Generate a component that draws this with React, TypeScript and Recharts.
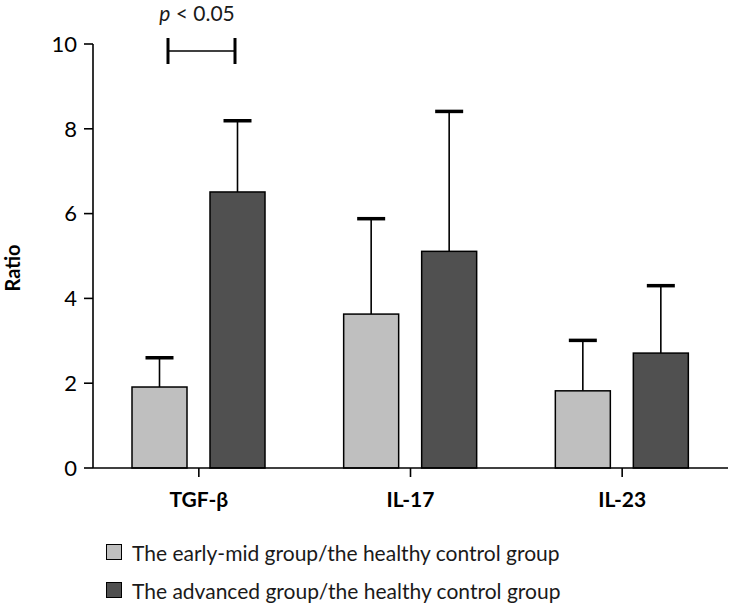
import { BarChart, Bar, XAxis, YAxis, Legend, Label } from 'recharts';

const categories = ['TGF-β', 'IL-17', 'IL-23'];
const earlyMid = [1.91, 3.63, 1.82];
const earlyMidSd = [0.69, 2.25, 1.19];
const advanced = [6.51, 5.11, 2.71];
const advancedSd = [1.68, 3.3, 1.59];
const yTicks = [0, 2, 4, 6, 8, 10];
const seriesNames = [
  'The early-mid group/the healthy control group',
  'The advanced group/the healthy control group',
];

const data = categories.map((name, i) => ({
  name,
  early: earlyMid[i],
  earlySd: earlyMidSd[i],
  adv: advanced[i],
  advSd: advancedSd[i],
}));

const FONT = 'Lato, "Open Sans", sans-serif';

// bar + upward-only whisker, sized from the bar the library laid out
const barWithError = (fill: string, valKey: string, sdKey: string) => (props: any) => {
  const { x, y, width, height, payload } = props;
  const v = payload[valKey];
  const pxPerUnit = v ? height / v : 0;
  const top = y - payload[sdKey] * pxPerUnit;
  const cx = x + width / 2;
  return (
    <g>
      <line x1={cx} x2={cx} y1={y} y2={top} stroke="#000" strokeWidth={1.6} />
      <line x1={cx - 14} x2={cx + 14} y1={top} y2={top} stroke="#000" strokeWidth={3.5} />
      <rect x={x} y={y} width={width} height={height} fill={fill} stroke="#000" strokeWidth={1.5} />
    </g>
  );
};

const renderLegend = (props: any) => {
  const items = [...(props.payload || [])].sort(
    (a: any, b: any) => seriesNames.indexOf(a.value) - seriesNames.indexOf(b.value)
  );
  return (
    <div style={{ display: 'flex', flexDirection: 'column', fontFamily: FONT, fontSize: 21, color: '#1a1a1a' }}>
      {items.map((entry: any) => (
        <div key={entry.value} style={{ display: 'flex', alignItems: 'center', height: 38 }}>
          <span
            style={{
              display: 'inline-block',
              width: 14,
              height: 14,
              background: entry.color,
              border: '1.5px solid #000',
              marginRight: 10,
            }}
          />
          <span>{entry.value}</span>
        </div>
      ))}
    </div>
  );
};

export default function App() {
  return (
    <div style={{ position: 'absolute', left: 0, top: 0, width: 729, height: 605, background: '#fff', fontFamily: FONT }}>
      <BarChart
        width={729}
        height={605}
        data={data}
        margin={{ top: 44, right: 1, bottom: 107, left: 0 }}
        barSize={55}
        barGap={23}
      >
        <XAxis
          dataKey="name"
          height={30}
          axisLine={{ stroke: '#000', strokeWidth: 1.6 }}
          tickLine={{ stroke: '#000', strokeWidth: 1.6 }}
          tickSize={9}
          tickMargin={15}
          tick={{ fill: '#000', fontSize: 21, fontWeight: 700, fontFamily: FONT }}
        />
        <YAxis
          width={93}
          domain={[0, 10]}
          ticks={yTicks}
          axisLine={{ stroke: '#000', strokeWidth: 1.6 }}
          tickLine={{ stroke: '#000', strokeWidth: 1.6 }}
          tickSize={9}
          tickMargin={7}
          tick={{ fill: '#000', fontSize: 22, fontFamily: FONT }}
        >
          <Label
            content={() => {
              const cy = 268;
              return (
                <text
                  x={12}
                  y={cy}
                  transform={`rotate(-90, 12, ${cy})`}
                  textAnchor="middle"
                  dominantBaseline="central"
                  fontSize={20}
                  fontWeight={700}
                  fontFamily={FONT}
                  fill="#000"
                >
                  Ratio
                </text>
              );
            }}
          />
        </YAxis>
        <Legend
          layout="vertical"
          align="center"
          verticalAlign="middle"
          content={renderLegend}
          wrapperStyle={{ left: 106, top: 533, width: 'auto' }}
        />
        <Bar
          dataKey="early"
          name={seriesNames[0]}
          fill="#bfbfbf"
          isAnimationActive={false}
          shape={barWithError('#bfbfbf', 'early', 'earlySd')}
        />
        <Bar
          dataKey="adv"
          name={seriesNames[1]}
          fill="#505050"
          isAnimationActive={false}
          shape={barWithError('#505050', 'adv', 'advSd')}
        />
      </BarChart>
      <svg
        width={729}
        height={80}
        style={{ position: 'absolute', left: 0, top: 0, pointerEvents: 'none' }}
      >
        <text x={197} y={21} textAnchor="middle" fontSize={21} fontFamily={FONT} fill="#1a1a1a">
          <tspan fontStyle="italic">p</tspan> {'<'} 0.05
        </text>
        <line x1={168} x2={168} y1={38} y2={64} stroke="#000" strokeWidth={3} />
        <line x1={235} x2={235} y1={38} y2={64} stroke="#000" strokeWidth={3} />
        <line x1={168} x2={235} y1={51} y2={51} stroke="#000" strokeWidth={1.6} />
      </svg>
    </div>
  );
}
